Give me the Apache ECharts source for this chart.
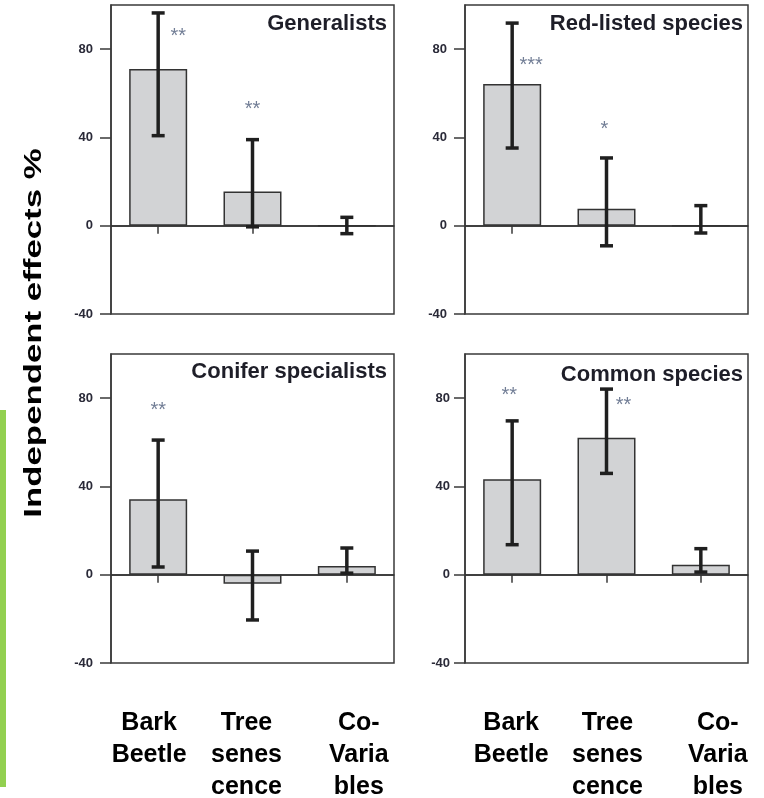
<!DOCTYPE html>
<html>
<head>
<meta charset="utf-8">
<script src="https://cdn.jsdelivr.net/npm/echarts@6/dist/echarts.min.js"></script>
<style>html,body{margin:0;padding:0;background:#fff}#c{width:764px;height:798px}</style>
</head>
<body>
<div id="c"></div>
<script>
// ---- data ----
const categories = ['Bark\nBeetle', 'Tree\nsenes\ncence', 'Co-\nVaria\nbles'];
const panelTitles = ['Generalists', 'Red-listed species', 'Conifer specialists', 'Common species'];
const yTicks = [-40, 0, 40, 80];

const generalistsMean = [71.0, 15.5, 0];
const generalistsLow  = [40.8, -0.5, -3.6];
const generalistsHigh = [96.4, 39.0, 3.8];
const generalistsStars = ['**', '**', ''];
const generalistsStarY = [88, 55, null];

const redListedMean = [64.2, 7.7, 0];
const redListedLow  = [35.2, -9.1, -3.3];
const redListedHigh = [91.8, 30.7, 9.1];
const redListedStars = ['***', '*', ''];
const redListedStarY = [75, 46, null];

const coniferMean = [34.2, -4.1, 3.9];
const coniferLow  = [3.5, -20.5, 0.7];
const coniferHigh = [61.0, 10.7, 12.1];
const coniferStars = ['**', '', ''];
const coniferStarY = [76.5, null, null];

const commonMean = [43.3, 62.1, 4.5];
const commonLow  = [13.6, 45.9, 1.2];
const commonHigh = [69.7, 84.1, 11.8];
const commonStars = ['**', '**', ''];
const commonStarY = [83.5, 79, null];

const panels = [
  {mean: generalistsMean, low: generalistsLow, high: generalistsHigh, stars: generalistsStars, starY: generalistsStarY},
  {mean: redListedMean, low: redListedLow, high: redListedHigh, stars: redListedStars, starY: redListedStarY},
  {mean: coniferMean, low: coniferLow, high: coniferHigh, stars: coniferStars, starY: coniferStarY},
  {mean: commonMean, low: commonLow, high: commonHigh, stars: commonStars, starY: commonStarY}
];

// ---- layout / style ----
const FONT = 'Liberation Sans, Arial, Helvetica, sans-serif';
const grids = [
  {left: 111, top: 5, width: 283, height: 309},
  {left: 465, top: 5, width: 283, height: 309},
  {left: 111, top: 354, width: 283, height: 309},
  {left: 465, top: 354, width: 283, height: 309}
];
const yLabelMargin = [18, 18, 18, 15];
const titlePos = [
  {right: 377, top: 13}, {right: 21, top: 13}, {right: 377, top: 361}, {right: 21, top: 364}
];
const starOffsetX = [[20, 0, 0], [19, -2, 0], [0, 0, 0], [-3, 17, 0]];
const starDy = 5;
const xLabelShift = [null, null, [-9, -6, 12], [-1, 1, 17]];

const option = {
  animation: false,
  backgroundColor: '#fff',
  title: panelTitles.map((t, i) => ({
    text: t, right: titlePos[i].right, top: titlePos[i].top, padding: 0,
    textStyle: {fontFamily: FONT, fontWeight: 'bold', fontSize: 22, color: '#1e1e28'}
  })),
  grid: grids.map(g => Object.assign({show: true, borderColor: '#3a3a3a', borderWidth: 1.5,
    backgroundColor: 'transparent', containLabel: false, outerBoundsMode: 'none'}, g)),
  xAxis: grids.map((g, i) => ({
    gridIndex: i, type: 'category',
    data: categories.map((c, j) => {
      const sh = xLabelShift[i] ? xLabelShift[i][j] : 0;
      return {value: c, textStyle: {padding: sh < 0 ? [0, -2 * sh, 0, 0] : [0, 0, 0, 2 * sh]}};
    }),
    axisLine: {show: true, lineStyle: {color: '#3a3a3a', width: 1.5}},
    axisTick: {show: true, alignWithLabel: true, length: 8, lineStyle: {color: '#3a3a3a', width: 1.5}},
    axisLabel: {
      show: i >= 2, interval: 0, margin: 44,
      fontFamily: FONT, fontWeight: 'bold', fontSize: 25, lineHeight: 32, color: '#000'
    },
    splitLine: {show: false}
  })),
  yAxis: grids.map((g, i) => ({
    gridIndex: i, type: 'value', min: -40, max: 100, interval: 40,
    axisLine: {show: true, lineStyle: {color: '#3a3a3a', width: 1.5}},
    axisTick: {show: true, length: 11, customValues: yTicks, lineStyle: {color: '#3a3a3a', width: 1.5}},
    axisLabel: {customValues: yTicks, margin: yLabelMargin[i], fontFamily: FONT, fontWeight: 'bold', fontSize: 13, color: '#2a2a38'},
    splitLine: {show: false}
  })),
  graphic: [
    {type: 'rect', shape: {x: 0, y: 410, width: 6, height: 377}, style: {fill: '#92d050'}},
    {type: 'text', x: 34, y: 333, rotation: Math.PI / 2, scaleX: 1.45,
     style: {text: 'Independent effects %', font: 'bold 24px ' + FONT, fill: '#000', align: 'center', verticalAlign: 'middle'}}
  ],
  series: []
};

panels.forEach((p, i) => {
  option.series.push({
    type: 'bar', xAxisIndex: i, yAxisIndex: i, data: p.mean, barWidth: 58,
    itemStyle: {color: '#d2d3d5', borderColor: '#333', borderWidth: 1.5},
    markLine: {
      silent: true, symbol: 'none', label: {show: false},
      lineStyle: {color: '#333', width: 1.5, type: 'solid'},
      data: [{yAxis: 0}]
    },
    z: 2
  });
  option.series.push({
    type: 'custom', xAxisIndex: i, yAxisIndex: i,
    data: p.mean.map((m, j) => [j, p.low[j], p.high[j]]),
    encode: {x: 0, y: [1, 2]},
    renderItem: function (params, api) {
      const x = api.value(0);
      const a = api.coord([x, api.value(1)]);
      const b = api.coord([x, api.value(2)]);
      const h = 6.5;
      const st = {stroke: '#1f1f1f', lineWidth: 3.5};
      return {type: 'group', children: [
        {type: 'line', shape: {x1: a[0], y1: a[1], x2: b[0], y2: b[1]}, style: st},
        {type: 'line', shape: {x1: a[0] - h, y1: a[1], x2: a[0] + h, y2: a[1]}, style: st},
        {type: 'line', shape: {x1: b[0] - h, y1: b[1], x2: b[0] + h, y2: b[1]}, style: st}
      ]};
    },
    z: 5
  });
  option.series.push({
    type: 'scatter', xAxisIndex: i, yAxisIndex: i, symbolSize: 0,
    data: p.stars.map((s, j) => s ? {value: [j, p.starY[j]], name: s,
      label: {offset: [starOffsetX[i][j], starDy]}} : null).filter(d => d),
    label: {show: true, position: 'inside', formatter: q => q.name,
      fontFamily: FONT, fontSize: 20, color: '#4e5d7a'},
    z: 6
  });
});

const chart = echarts.init(document.getElementById('c'), null, {renderer: 'canvas'});
chart.setOption(option);
</script>
</body>
</html>
